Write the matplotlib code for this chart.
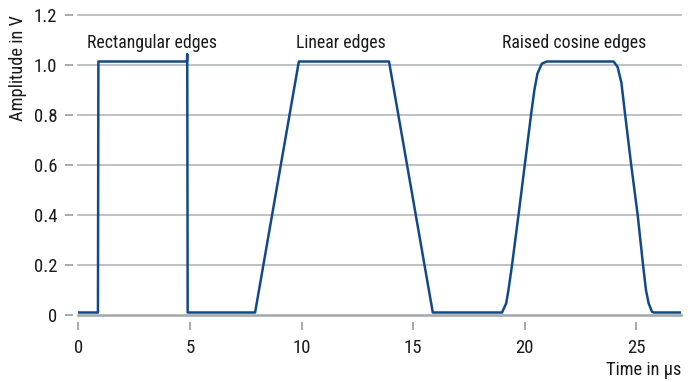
import matplotlib
matplotlib.use("Agg")
import matplotlib.pyplot as plt
from matplotlib import font_manager

# Waveform breakpoints: time in µs and amplitude in V
time_us = [0.0, 0.88, 0.90, 4.87, 4.88, 4.90,
           7.92, 9.88, 13.92, 15.88,
           18.98, 19.17, 19.27, 19.43, 19.72, 20.00, 20.28, 20.43, 20.57, 20.77, 21.00,
           23.98, 24.16, 24.33, 24.50, 24.77, 25.06, 25.30, 25.43, 25.55, 25.70, 25.78,
           27.0]
amplitude_v = [0.01, 0.01, 1.015, 1.015, 1.045, 0.01,
               0.01, 1.015, 1.015, 0.01,
               0.01, 0.047, 0.10, 0.20, 0.40, 0.60, 0.80, 0.90, 0.967, 1.007, 1.015,
               1.015, 0.993, 0.93, 0.80, 0.60, 0.40, 0.20, 0.10, 0.047, 0.013, 0.01,
               0.01]

labels = ["Rectangular edges", "Linear edges", "Raised cosine edges"]
label_x = [3.3, 11.75, 22.2]
label_y = 1.068

x_ticks = [0, 5, 10, 15, 20, 25]
y_ticks = [0, 0.2, 0.4, 0.6, 0.8, 1.0, 1.2]
y_ticklabels = ["0", "0.2", "0.4", "0.6", "0.8", "1.0", "1.2"]

installed = {f.name for f in font_manager.fontManager.ttflist}
families = [f for f in ["Liberation Sans Narrow", "Roboto Condensed", "Liberation Sans"] if f in installed]
plt.rcParams["font.family"] = families + ["DejaVu Sans"]

trace_color = "#124a89"
grid_color = "#b9bdc1"
axis_color = "#a6aaae"
text_color = "#1a1a1a"

fig = plt.figure(figsize=(6.97, 3.82), dpi=100)
ax = fig.add_axes([78.3 / 697, 1 - 315 / 382, (681 - 78.3) / 697, (315 - 15.3) / 382])

ax.set_xlim(0, 27.0)
ax.set_ylim(0, 1.2)

# horizontal grid, with a heavier baseline at zero
for yv in y_ticks[1:]:
    ax.axhline(yv, color=grid_color, lw=1.3, zorder=1, clip_on=False)
ax.axhline(0, color=axis_color, lw=1.9, zorder=1, clip_on=False)

ax.plot(time_us, amplitude_v, color=trace_color, lw=1.8, zorder=3,
        solid_joinstyle="round")

for s in ["top", "right"]:
    ax.spines[s].set_visible(False)
ax.spines["left"].set_position(("outward", 4))
ax.spines["bottom"].set_position(("outward", 5))
ax.spines["left"].set_visible(False)
ax.spines["bottom"].set_visible(False)

ax.set_xticks(x_ticks)
ax.set_xticklabels([str(v) for v in x_ticks])
ax.set_yticks(y_ticks)
ax.set_yticklabels(y_ticklabels)
ax.tick_params(axis="both", direction="out", length=6, width=1.4, color=axis_color,
               labelsize=13.5, labelcolor=text_color)
ax.tick_params(axis="y", pad=5)
ax.tick_params(axis="x", pad=6)

ax.set_ylabel("Amplitude in V", fontsize=13.2, color=text_color, loc="top", labelpad=5)
ax.set_xlabel("Time in µs", fontsize=13.2, color=text_color, loc="right", labelpad=3)

for txt, xv in zip(labels, label_x):
    ax.text(xv, label_y, txt, ha="center", va="baseline", fontsize=12.8, color=text_color)

fig.savefig("out.png", dpi=100)
